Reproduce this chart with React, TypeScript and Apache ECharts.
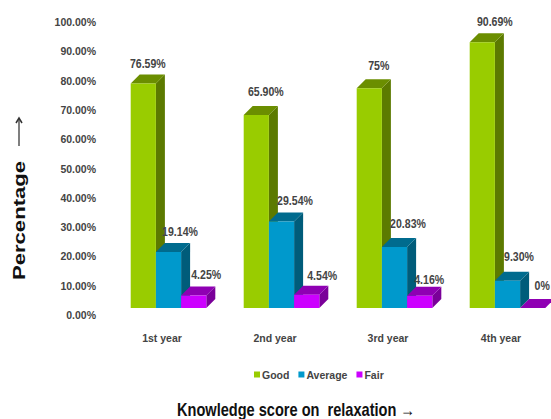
import React, { useEffect, useRef } from "react";
import * as echarts from "echarts";

const years = ["1st year", "2nd year", "3rd year", "4th year"];
const good = [76.59, 65.9, 75, 90.69];
const average = [19.14, 29.54, 20.83, 9.3];
const fair = [4.25, 4.54, 4.16, 0];

// Hand placement of each value label relative to the top of its bar.
const goodLabelShift = [[0, -10.5], [5, -14], [5, -13], [8, -12]];
const averageLabelShift = [[7, -11], [9, -12], [9, -14], [7, -15]];
const fairLabelShift = [[8, -11.5], [11, -10], [5, -7], [5, -13]];

const DEPTH = 9;
const BAR_SHARE = 25.2 / 113;
const SANS = "'Liberation Sans', Arial, sans-serif";
const LABEL_COLOR = "#444444";

const formatValue = (v: number) => (Number.isInteger(v) ? `${v}%` : `${v.toFixed(2)}%`);

function bar3d(
  name: string,
  values: number[],
  slot: number,
  front: string,
  side: string,
  top: string,
  shifts: number[][]
) {
  return {
    name,
    type: "custom",
    clip: false,
    itemStyle: { color: front },
    data: values.map((v, i) => [i, v]),
    encode: { x: 0, y: 1 },
    renderItem: (_: unknown, api: any) => {
      const idx = api.value(0);
      const val = api.value(1);
      const [cx, y] = api.coord([idx, val]);
      const [, base] = api.coord([idx, 0]);
      const w = api.size([1, 0])[0] * BAR_SHARE;
      const x = cx + (slot - 1.5) * w;
      const d = DEPTH;
      const [dx, dy] = shifts[idx];
      return {
        type: "group",
        children: [
          {
            type: "polygon",
            shape: { points: [[x + w, y], [x + w + d, y - d], [x + w + d, base - d], [x + w, base]] },
            style: { fill: side },
          },
          {
            type: "polygon",
            shape: { points: [[x, y], [x + d, y - d], [x + w + d, y - d], [x + w, y]] },
            style: { fill: top },
          },
          { type: "rect", shape: { x, y, width: w, height: base - y }, style: { fill: front } },
          {
            type: "text",
            x: x + w / 2 + d / 2 + dx,
            y: y - d + dy,
            scaleX: 0.88,
            style: {
              text: formatValue(val),
              align: "center",
              verticalAlign: "middle",
              fill: LABEL_COLOR,
              font: `bold 12px ${SANS}`,
            },
          },
        ],
      };
    },
  };
}

export default function App() {
  const ref = useRef<HTMLDivElement>(null);

  useEffect(() => {
    document.body.style.margin = "0";
    const chart = echarts.init(ref.current!, undefined, { renderer: "svg" });
    chart.setOption({
      animation: false,
      backgroundColor: "#ffffff",
      grid: { left: 112, top: 15, width: 452, height: 293, outerBoundsMode: "none" },
      xAxis: {
        type: "category",
        data: years,
        axisLine: { show: false },
        axisTick: { show: false },
        axisLabel: {
          margin: 24,
          padding: [0, 13, 0, 0],
          color: LABEL_COLOR,
          fontFamily: SANS,
          fontWeight: "bold",
          fontSize: 10.5,
        },
      },
      yAxis: {
        type: "value",
        min: 0,
        max: 100,
        interval: 10,
        splitLine: { show: false },
        axisLine: { show: false },
        axisTick: { show: false },
        axisLabel: {
          margin: 16,
          verticalAlign: "top",
          lineHeight: 14,
          formatter: (v: number) => `${v.toFixed(2)}%`,
          color: LABEL_COLOR,
          fontFamily: SANS,
          fontWeight: "bold",
          fontSize: 10.5,
        },
      },
      legend: {
        left: 254,
        top: 369,
        icon: "rect",
        itemWidth: 6,
        itemHeight: 6,
        itemGap: 9,
        padding: 0,
        data: ["Good", "Average", "Fair"],
        textStyle: {
          color: LABEL_COLOR,
          fontFamily: SANS,
          fontWeight: "bold",
          fontSize: 10.5,
          padding: [0, 0, 0, -3],
        },
      },
      graphic: [
        {
          type: "text",
          x: 19,
          y: 220.5,
          rotation: Math.PI / 2,
          scaleX: 1.3,
          style: {
            text: "Percentage",
            align: "center",
            verticalAlign: "middle",
            fill: "#111111",
            font: `bold 17px ${SANS}`,
          },
        },
        {
          type: "line",
          shape: { x1: 19, y1: 146, x2: 19, y2: 119 },
          style: { stroke: "#555555", lineWidth: 1.5 },
        },
        {
          type: "polyline",
          shape: { points: [[16, 123], [19, 118], [22, 123]] },
          style: { stroke: "#333333", lineWidth: 1.5, fill: "none" },
        },
        {
          type: "text",
          x: 296,
          y: 409,
          scaleX: 0.81,
          style: {
            text: "Knowledge score on  relaxation →",
            align: "center",
            verticalAlign: "middle",
            fill: "#111111",
            font: `bold 18px ${SANS}`,
          },
        },
      ],
      series: [
        bar3d("Good", good, 0, "#99cc00", "#5c7a00", "#6b8e00", goodLabelShift),
        bar3d("Average", average, 1, "#0099cc", "#005c7a", "#006b8e", averageLabelShift),
        bar3d("Fair", fair, 2, "#cc00ff", "#7a0099", "#8f00b3", fairLabelShift),
      ],
    });
    return () => chart.dispose();
  }, []);

  return <div ref={ref} style={{ width: 551, height: 419 }} />;
}
